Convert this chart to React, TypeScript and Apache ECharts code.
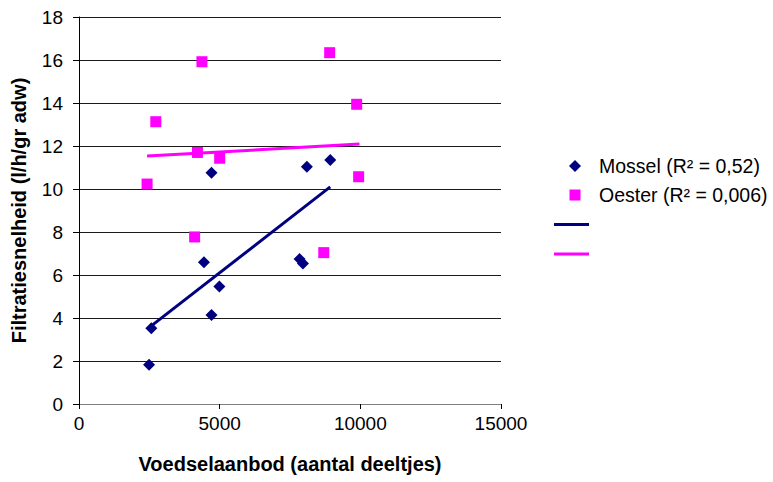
import React, { useEffect, useRef } from "react";
import * as echarts from "echarts";

const mosselName = "Mossel (R² = 0,52)";
const oesterName = "Oester (R² = 0,006)";
const xTitle = "Voedselaanbod (aantal deeltjes)";
const yTitle = "Filtratiesnelheid (l/h/gr adw)";

const mosselX = [2490, 2570, 4440, 4990, 4710, 7840, 7960, 4710, 8100, 8930];
const mosselY = [1.83, 3.52, 6.59, 5.47, 4.14, 6.74, 6.54, 10.76, 11.04, 11.35];

const oesterX = [2420, 2730, 4370, 4210, 5000, 8910, 9870, 9940, 4110, 8700];
const oesterY = [10.23, 13.13, 15.92, 11.7, 11.43, 16.34, 13.94, 10.57, 7.77, 7.04];

const mosselTrendX = [2490, 8930];
const mosselTrendY = [3.55, 10.1];
const oesterTrendX = [2420, 9970];
const oesterTrendY = [11.53, 12.09];

const NAVY = "#000080";
const MAGENTA = "#FF00FF";
const FONT = "'Liberation Sans', Arial, sans-serif";

const zip = (xs: number[], ys: number[]) => xs.map((x, i) => [x, ys[i]]);

export default function App() {
  const ref = useRef<HTMLDivElement>(null);
  useEffect(() => {
    if (!ref.current) return;
    const chart = echarts.init(ref.current, null, { renderer: "svg" });
    chart.setOption({
      animation: false,
      backgroundColor: "#fff",
      textStyle: { fontFamily: FONT },
      grid: { left: 79, right: 272, top: 17, bottom: 78, containLabel: false },
      xAxis: {
        type: "value",
        min: 0,
        max: 15000,
        interval: 5000,
        name: xTitle,
        nameLocation: "middle",
        nameGap: 50,
        nameTextStyle: { fontFamily: FONT, fontSize: 20, fontWeight: "bold", color: "#000" },
        axisLine: { show: true, lineStyle: { color: "#808080", width: 1 } },
        axisTick: { show: true, length: 5, lineStyle: { color: "#000" } },
        axisLabel: { margin: 10, fontFamily: FONT, fontSize: 19, color: "#000", formatter: (v: number) => String(v) },
        splitLine: { show: false },
      },
      yAxis: {
        type: "value",
        min: 0,
        max: 18,
        interval: 2,
        name: yTitle,
        nameLocation: "middle",
        nameRotate: 90,
        nameGap: 50,
        nameTextStyle: { fontFamily: FONT, fontSize: 20, fontWeight: "bold", color: "#000" },
        axisLine: { show: true, lineStyle: { color: "#000", width: 1 } },
        axisTick: { show: true, length: 6, lineStyle: { color: "#000" } },
        axisLabel: { margin: 16, fontFamily: FONT, fontSize: 19, color: "#000" },
        splitLine: { show: true, lineStyle: { color: "#1a1a1a", width: 1 } },
      },
      series: [
        {
          name: mosselName,
          type: "scatter",
          symbol: "diamond",
          symbolSize: 12,
          itemStyle: { color: NAVY, opacity: 1 },
          data: zip(mosselX, mosselY),
          z: 3,
        },
        {
          name: oesterName,
          type: "scatter",
          symbol: "rect",
          symbolSize: 11,
          itemStyle: { color: MAGENTA, opacity: 1 },
          data: zip(oesterX, oesterY),
          z: 3,
        },
        {
          name: "Mossel trend",
          type: "line",
          showSymbol: false,
          symbol: "none",
          lineStyle: { color: NAVY, width: 3 },
          data: zip(mosselTrendX, mosselTrendY),
          z: 4,
        },
        {
          name: "Oester trend",
          type: "line",
          showSymbol: false,
          symbol: "none",
          lineStyle: { color: MAGENTA, width: 3 },
          data: zip(oesterTrendX, oesterTrendY),
          z: 4,
        },
      ],
      graphic: [
        {
          type: "polygon",
          shape: { points: [[575, 160], [581, 166], [575, 172], [569, 166]] },
          style: { fill: NAVY },
        },
        {
          type: "text",
          x: 599,
          y: 166,
          style: { text: mosselName, fontFamily: FONT, fontSize: 19.5, fill: "#000", verticalAlign: "middle" },
        },
        {
          type: "rect",
          shape: { x: 569.5, y: 189.5, width: 11, height: 11 },
          style: { fill: MAGENTA },
        },
        {
          type: "text",
          x: 599,
          y: 195,
          style: { text: oesterName, fontFamily: FONT, fontSize: 19.5, fill: "#000", verticalAlign: "middle" },
        },
        {
          type: "line",
          shape: { x1: 554, y1: 224.5, x2: 589, y2: 224.5 },
          style: { stroke: NAVY, lineWidth: 3 },
        },
        {
          type: "line",
          shape: { x1: 554, y1: 254, x2: 589, y2: 254 },
          style: { stroke: MAGENTA, lineWidth: 3 },
        },
      ],
    });
    return () => chart.dispose();
  }, []);
  return <div ref={ref} style={{ width: 773, height: 482, position: "absolute", left: 0, top: 0 }} />;
}
